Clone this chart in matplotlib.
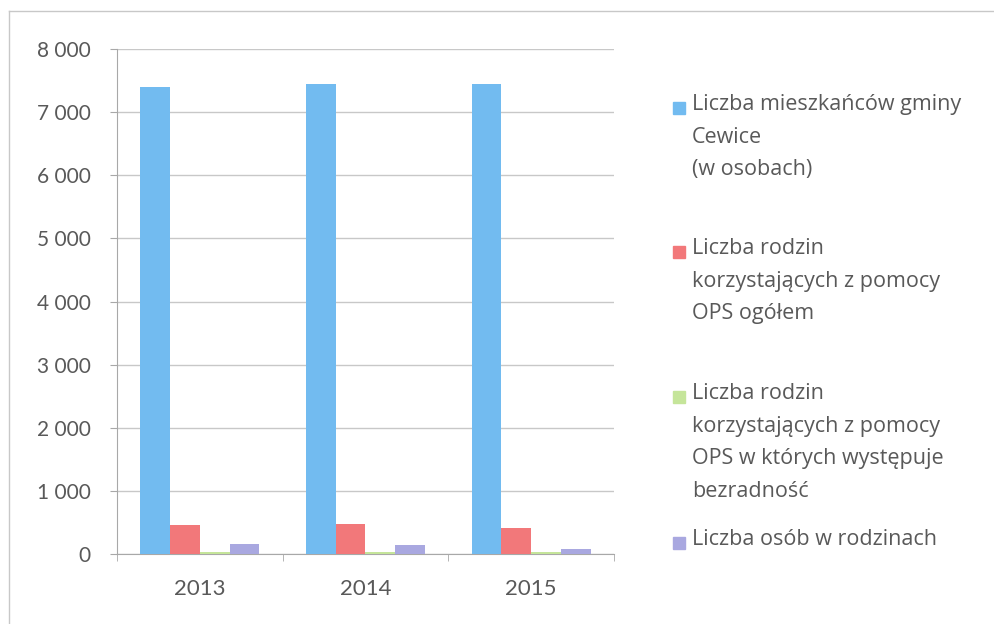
import matplotlib.pyplot as plt
from matplotlib.lines import Line2D
from matplotlib.patches import Rectangle
from matplotlib.ticker import FuncFormatter, FixedLocator
import numpy as np

plt.rcParams['font.family'] = ['Lato', 'DejaVu Sans']

years = ["2013", "2014", "2015"]
residents = [7400, 7450, 7450]
families_total = [460, 475, 415]
families_helpless = [35, 35, 30]
persons_in_families = [155, 150, 75]

series = [residents, families_total, families_helpless, persons_in_families]
labels = [
    "Liczba mieszkańców gminy\nCewice\n(w osobach)",
    "Liczba rodzin\nkorzystających z pomocy\nOPS ogółem",
    "Liczba rodzin\nkorzystających z pomocy\nOPS w których występuje\nbezradność",
    "Liczba osób w rodzinach",
]
colors = ["#72BBF0", "#F2787A", "#C5E59A", "#A9A8E0"]

W, H = 995, 624
fig = plt.figure(figsize=(W / 100, H / 100), dpi=100)
ax = fig.add_axes([117 / W, 1 - 554 / H, (614 - 117) / W, (554 - 49) / H])

x = np.arange(len(years))
width = 0.18
for i, (vals, col) in enumerate(zip(series, colors)):
    ax.bar(x + (i - 1.5) * width, vals, width, color=col, zorder=3)

ax.set_xlim(-0.5, 2.5)
ax.set_ylim(0, 8000)
ax.set_yticks(range(0, 8001, 1000))
ax.yaxis.set_major_formatter(FuncFormatter(lambda v, p: f"{int(v):,}".replace(",", " ")))
ax.set_xticks(x)
ax.set_xticklabels(years)
ax.xaxis.set_minor_locator(FixedLocator([-0.5, 0.5, 1.5, 2.5]))

ax.grid(axis="y", color="#C8C8C8", linewidth=1, zorder=0)
for side in ["top", "right"]:
    ax.spines[side].set_visible(False)
for side in ["left", "bottom"]:
    ax.spines[side].set_color("#A8A8A8")

ax.tick_params(axis="y", colors="#A8A8A8", labelcolor="#595959", labelsize=15,
               length=5, pad=14)
ax.tick_params(axis="x", which="major", length=0, labelcolor="#595959",
               labelsize=16, pad=18)
ax.tick_params(axis="x", which="minor", length=5, color="#A8A8A8")

# legend, entries evenly spaced like Excel
tops = [94, 238, 383, 529]
for lab, col, top in zip(labels, colors, tops):
    fig.patches.append(Rectangle((673 / W, 1 - (top + 20) / H), 12 / W, 12 / H,
                                 transform=fig.transFigure, color=col))
    fig.text(692 / W, 1 - top / H, lab, ha="left", va="top", fontsize=15.5,
             color="#595959", linespacing=1.72, family=["Open Sans", "DejaVu Sans"])

# frame edges
fig.lines.append(Line2D([9 / W, 9 / W], [0, 1 - 11 / H], transform=fig.transFigure,
                        color="#C8C8C8", linewidth=1))
fig.lines.append(Line2D([9 / W, 1], [1 - 11 / H, 1 - 11 / H], transform=fig.transFigure,
                        color="#C8C8C8", linewidth=1))

fig.savefig("out.png", dpi=100)
